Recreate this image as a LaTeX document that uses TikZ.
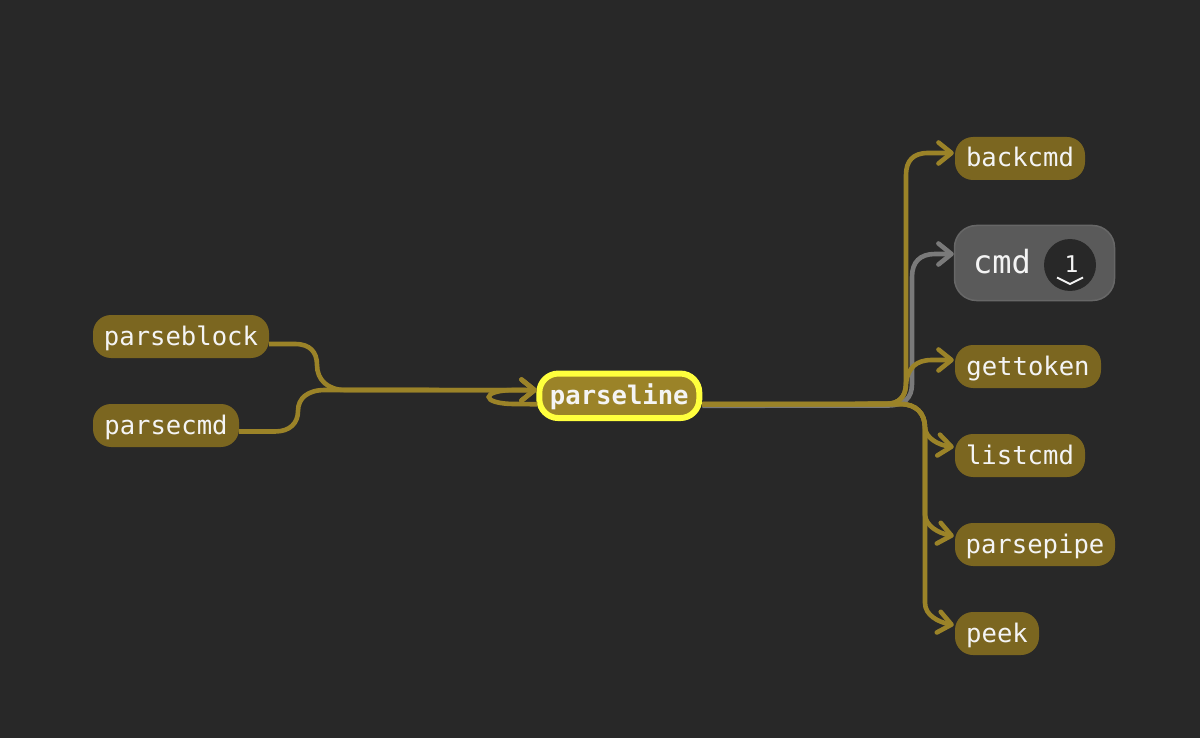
\documentclass[tikz,border=0pt]{standalone}
\usepackage{fontspec}
\setmonofont{DejaVu Sans Mono}
\usepackage{tikz}
\usetikzlibrary{positioning, arrows.meta}
\definecolor{bgdark}{HTML}{282828}
\definecolor{fngold}{HTML}{7B6620}
\definecolor{linegold}{HTML}{9B8328}
\definecolor{linegrey}{HTML}{7A7A7A}
\definecolor{cmdgrey}{HTML}{5A5A5A}
\definecolor{cmdedge}{HTML}{676767}
\definecolor{hiyellow}{HTML}{FFFF3D}
\definecolor{textwhite}{HTML}{F4F4F4}

\begin{document}
\begin{tikzpicture}[x=1pt,y=-1pt,
    >={Straight Barb[length=13pt,width=21pt,line width=4.6pt,round]},
    fnnode/.style={fill=fngold,rounded corners=18pt,inner sep=0pt,minimum height=43pt,
        text=textwhite,font=\fontsize{25.6}{30}\ttfamily,text height=19pt,text depth=2pt},
    goldline/.style={->,draw=linegold,line width=4.6pt},
    greyline/.style={->,draw=linegrey,line width=4.6pt},
  ]

    \fill[bgdark] (0,0) rectangle (1200,738);
    \useasboundingbox (0,0) rectangle (1200,738);

    \node[fnnode, minimum width=176pt] (parseblock) at (181,336.5) {parseblock};
    \node[fnnode, minimum width=146pt] (parsecmd) at (166,425.5) {parsecmd};
    \node[fnnode, minimum width=130pt] (backcmd) at (1020,158.5) {backcmd};
    \node[fnnode, minimum width=146pt] (gettoken) at (1028,366.5) {gettoken};
    \node[fnnode, minimum width=130pt] (listcmd) at (1020,455.5) {listcmd};
    \node[fnnode, minimum width=160pt] (parsepipe) at (1035,544.5) {parsepipe};
    \node[fnnode, minimum width=84pt] (peek) at (997,633.5) {peek};

    \node[fnnode, fill=linegold, draw=hiyellow, line width=6pt, rounded corners=19pt,
        minimum width=160pt, minimum height=44.5pt, font=\fontsize{25.6}{30}\ttfamily\bfseries]
        (parseline) at (619.3,395.8) {parseline};

    \node[fill=cmdgrey, draw=cmdedge, line width=1.5pt, rounded corners=22pt, inner sep=0pt,
        minimum width=160pt, minimum height=75pt] (cmd) at (1034.5,263) {};
    \node[text=textwhite, font=\fontsize{32}{36}\ttfamily, inner sep=0pt,
        text height=24pt, text depth=2pt] (cmdlabel) at (1002,262.5) {cmd};
    \node[circle, fill=bgdark, inner sep=0pt, minimum size=52pt] (cmdcount) at (1070,265) {};
    \node[text=textwhite, font=\fontsize{23}{26}\ttfamily, inner sep=0pt] (cmdnum) at (1071.5,264.5) {1};
    \draw[textwhite, line width=2pt] (1057,277.5) -- (1070,284) -- (1083,277.5);

    \coordinate (parselineout) at ([yshift=-8.5pt]parseline.east);
    \coordinate (parselinein) at ([xshift=0.5pt,yshift=5.7pt]parseline.west);
    \coordinate (parselineback) at ([xshift=1pt,yshift=-8.5pt]parseline.west);

    % callers
    \draw[goldline] ([yshift=-7.5pt]parseblock.east) -- (295,344)
        .. controls (310,344) and (317,352) .. (317,365)
        .. controls (317,380) and (328,390) .. (345,390) -- (parselinein);
    \draw[goldline] ([yshift=-6pt]parsecmd.east) -- (275,431.5)
        .. controls (290,431.5) and (298,423) .. (298,411)
        .. controls (298,398) and (308,390) .. (325,390) -- (parselinein);
    \draw[goldline] (parselineback) -- (515,404)
        .. controls (480,404) and (480,390) .. (515,390) -- (parselinein);

    % callees
    \draw[greyline] ([yshift=-1.5pt]parselineout) -- (888,405.5)
        .. controls (904,405.5) and (912,398) .. (912,384) -- (912,277)
        .. controls (912,262) and (920,254) .. (935,254) -- ([yshift=9pt]cmd.west);
    \draw[goldline] (parselineout) -- (885,404)
        .. controls (899,404) and (906,397) .. (906,383) -- (906,175)
        .. controls (906,161) and (913,153) .. (928,153) -- ([xshift=-1pt,yshift=5.5pt]backcmd.west);
    \draw[goldline] (parselineout) -- (885,404)
        .. controls (899,404) and (906,397) .. (906,383)
        .. controls (908,368) and (916,360) .. (932,360) -- ([xshift=-1pt,yshift=6.5pt]gettoken.west);
    \draw[goldline] (parselineout) -- (900,404)
        .. controls (916,404) and (925,413) .. (925,428)
        .. controls (926,438) and (938,445) .. ([xshift=-1pt,yshift=8.5pt]listcmd.west |- 0,455.5);
    \draw[goldline] (parselineout) -- (900,404)
        .. controls (916,404) and (925,413) .. (925,428) -- (925,515)
        .. controls (926,526) and (938,533) .. ([xshift=-1pt]parsepipe.west |- 0,536);
    \draw[goldline] (parselineout) -- (900,404)
        .. controls (916,404) and (925,413) .. (925,428) -- (925,603)
        .. controls (925,615) and (938,622) .. ([xshift=-1pt]peek.west |- 0,625);

\end{tikzpicture}
\end{document}
